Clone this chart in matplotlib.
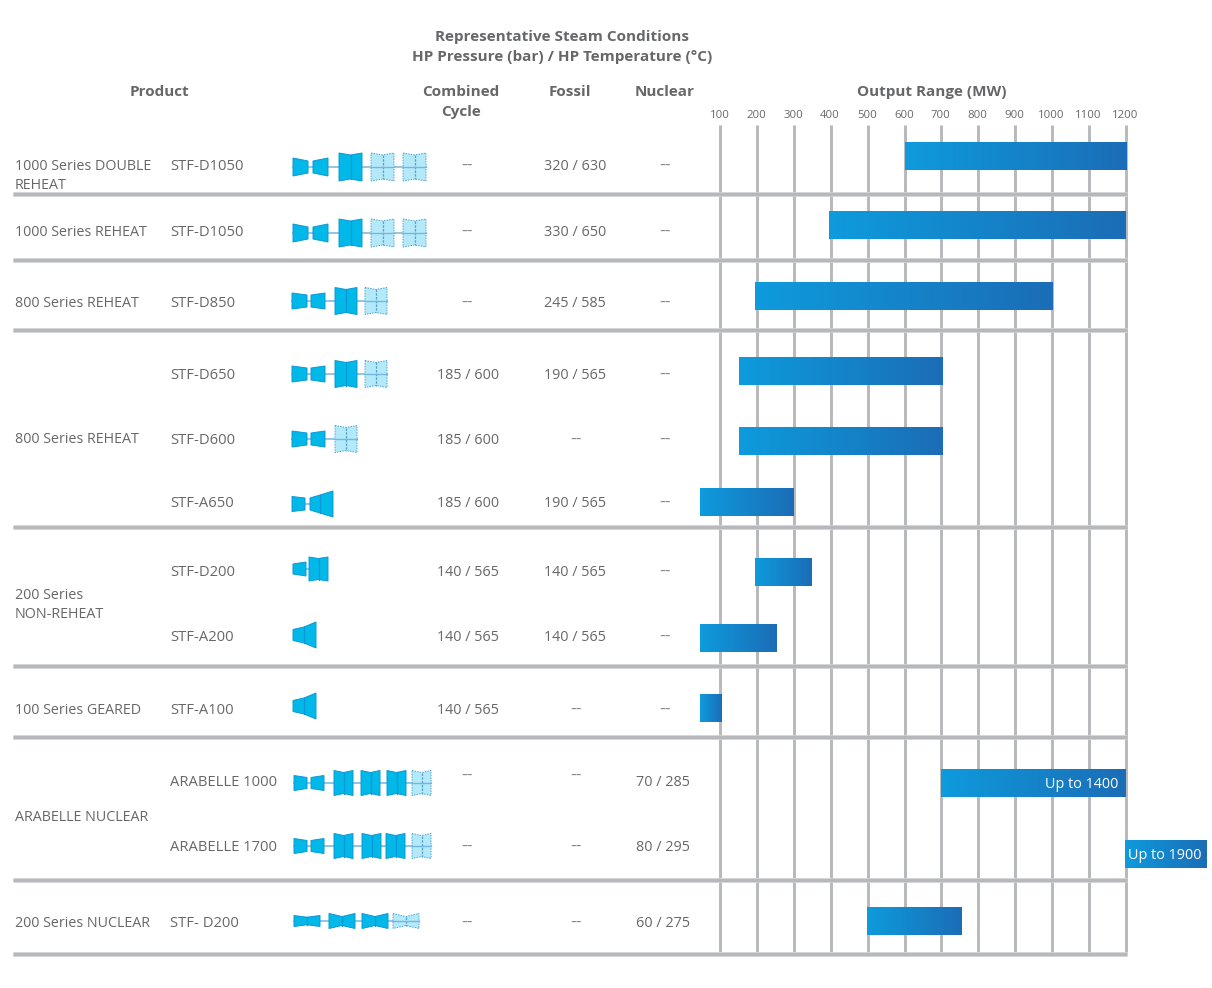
import numpy as np
import matplotlib
matplotlib.use("Agg")
import matplotlib.pyplot as plt
from matplotlib.colors import LinearSegmentedColormap
from matplotlib.patches import Polygon

# ---------- data ----------
products = ["STF-D1050", "STF-D1050", "STF-D850", "STF-D650", "STF-D600", "STF-A650",
            "STF-D200", "STF-A200", "STF-A100", "ARABELLE 1000", "ARABELLE 1700", "STF- D200"]
combined = ["--", "--", "--", "185 / 600", "185 / 600", "185 / 600",
            "140 / 565", "140 / 565", "140 / 565", "--", "--", "--"]
fossil = ["320 / 630", "330 / 650", "245 / 585", "190 / 565", "--", "190 / 565",
          "140 / 565", "140 / 565", "--", "--", "--", "--"]
nuclear = ["--", "--", "--", "--", "--", "--", "--", "--", "--", "70 / 285", "80 / 295", "60 / 275"]
output_low = [600, 395, 195, 152, 152, 47, 195, 47, 47, 698, 1198, 499]
output_high = [1199, 1199, 1000, 703, 703, 300, 347, 255, 104, 1199, 1420, 754]
bar_notes = {9: "Up to 1400", 10: "Up to 1900"}
ticks = [100, 200, 300, 400, 500, 600, 700, 800, 900, 1000, 1100, 1200]
groups = [("1000 Series DOUBLE", 165), ("REHEAT", 184), ("1000 Series REHEAT", 231),
          ("800 Series REHEAT", 302), ("800 Series REHEAT", 438), ("200 Series", 594),
          ("NON-REHEAT", 613), ("100 Series GEARED", 709), ("ARABELLE NUCLEAR", 816),
          ("200 Series NUCLEAR", 922)]

# ---------- layout ----------
W, H = 1212, 988
GRAY = "#666769"
LINE = "#B6B8BB"
row_text_y = [165, 231, 302, 374, 439, 502, 571, 636, 709, 781, 846, 922]
bar_y = [156, 225, 296, 371, 441, 502, 572, 638, 708, 783, 854, 921]
sep_y = [194, 260, 330, 527, 666, 737, 880, 954]
px_per_mw = 0.3690
x0 = 100 - 720 / px_per_mw

plt.rcParams["font.family"] = ["Open Sans", "DejaVu Sans"]
fig = plt.figure(figsize=(W / 100, H / 100), dpi=100)
ax = fig.add_axes([0, 0, 1, 1])
ax.axis("off")
ax.set_ylim(H, 0)
ax.set_xlim(x0, x0 + W / px_per_mw)
px = fig.add_axes([0, 0, 1, 1], facecolor="none")
px.axis("off")
px.set_xlim(0, W)
px.set_ylim(H, 0)

# grid
ax.vlines(ticks, 125, 952, color=LINE, lw=2.1, zorder=1)
for y in sep_y:
    px.plot([13, 1127], [y, y], color="#DADBDD", lw=3.4, solid_capstyle="butt", zorder=1)
    px.plot([13, 1127], [y, y], color=LINE, lw=2.5, solid_capstyle="butt", zorder=1)
for t in ticks:
    ax.text(t - 1.5, 115, str(t), ha="center", va="center", fontsize=8.2, color=GRAY)

# bars
cmap = LinearSegmentedColormap.from_list("bar", ["#0E9BDD", "#1B6DB6"])
grad = np.linspace(0, 1, 256).reshape(1, -1)
for i, (lo, hi) in enumerate(zip(output_low, output_high)):
    ax.imshow(grad, cmap=cmap, aspect="auto", extent=(lo, hi, bar_y[i] + 14, bar_y[i] - 14),
              zorder=3, interpolation="bilinear")
    if i in bar_notes:
        ax.text(hi - 20 if i == 9 else hi - 15, bar_y[i] + 1.5, bar_notes[i], ha="right", va="center",
                color="white", fontsize=10.4, zorder=4)
ax.set_xlim(x0, x0 + W / px_per_mw)
ax.set_ylim(H, 0)

# table text
for y, name in zip(row_text_y, products):
    px.text(170.5, y + 1.3, name, ha="left", va="center", fontsize=10.6, color=GRAY)
for label, y in groups:
    px.text(15, y + 1.3, label, ha="left", va="center", fontsize=10.3, color=GRAY)


def cell(x_dash, x_val, y, s):
    is_dash = s == "--"
    px.text(x_dash if is_dash else x_val, y + 1.3, s, ha="center", va="center",
            fontsize=12.5 if is_dash else 10.4, color="#858688" if is_dash else GRAY)


for i, y in enumerate(row_text_y):
    dy = -6 if i == 9 else 0
    cell(467, 468, y + dy, combined[i])
    cell(576, 575, y + dy, fossil[i])
    cell(665, 662.5, y, nuclear[i])

# headers
for s, x, y in [("Representative Steam Conditions", 562, 37), ("HP Pressure (bar) / HP Temperature (°C)", 562, 57),
                ("Product", 159, 92), ("Combined", 461, 92), ("Cycle", 461, 112),
                ("Fossil", 570, 92), ("Nuclear", 665, 92), ("Output Range (MW)", 932, 92)]:
    px.text(x, y, s, ha="center", va="center", fontsize=11, fontweight="bold", color=GRAY)

# turbine icons
DARK, DARK_E = "#00B9E8", "#0E97D6"
LIGHT, LIGHT_E = "#B4E9F9", "#4FA3D3"


def shape(pts, light=False):
    px.add_patch(Polygon(pts, closed=True, facecolor=LIGHT if light else DARK,
                         edgecolor=LIGHT_E if light else DARK_E, lw=0.7,
                         ls=(0, (1.5, 1.2)) if light else "-", zorder=4))


def taper(a, b, c, ha, hb):
    shape([(a, c - ha), (b, c - hb), (b, c + hb), (a, c + ha)])


def flow(a, b, c, outer, inner, light=False):
    m = (a + b) / 2
    shape([(a, c - outer), (m, c - inner), (b, c - outer), (b, c + outer), (m, c + inner), (a, c + outer)], light)
    px.plot([m, m], [c - inner, c + inner], color=LIGHT_E if light else DARK_E, lw=0.9,
            ls=(0, (2, 1)) if light else "-", zorder=5)
    if light:
        px.plot([a, b], [c, c], color="#74B6DE", lw=1.0, zorder=5)


def shaft(a, b, c):
    px.plot([a, b], [c, c], color="#74B6DE", lw=1.1, zorder=3)


def reheat(c, xs, h=(9, 6), lp=(14, 12), light_from=1):
    """HP + IP followed by double-flow LP casings; xs are LP left edges."""
    a, b, d, e, w = xs[0], xs[1], xs[2], xs[3], xs[4]
    shaft(a, xs[5][-1] + w, c)
    taper(a, b, c, h[0], h[1])
    taper(d, e, c, h[1], h[0])
    for i, x in enumerate(xs[5]):
        flow(x, x + w, c, lp[0], lp[1], light=i >= light_from)


reheat(167, (293, 308, 313, 328, 23, [339, 371, 403]))
reheat(233, (293, 308, 313, 328, 23, [339, 371, 403]))
reheat(301, (292, 307, 311, 325, 22, [335, 365]), h=(8, 6), lp=(13.5, 11.5))
reheat(374, (292, 307, 311, 325, 22, [335, 365]), h=(8, 6), lp=(13.5, 11.5))
reheat(439, (292, 307, 311, 325, 22, [335]), h=(8, 6), lp=(13.5, 11.5), light_from=0)
reheat(783, (294, 307, 311, 324, 19, [334, 361, 387, 412]), h=(7.5, 5.5), lp=(12.5, 10.5), light_from=3)
reheat(846, (294, 307, 311, 324, 19, [334, 362, 386, 412]), h=(7.5, 5.5), lp=(12.5, 10.5), light_from=3)

# A650
shaft(305, 311, 504)
taper(292, 305, 504, 7.5, 6)
shape([(310, 498), (320, 495), (333, 491), (333, 517), (320, 513), (310, 510)])
px.plot([320, 320], [495, 513], color=DARK_E, lw=0.9, zorder=5)
# D200
shaft(306, 310, 569)
taper(293, 306, 569, 5, 7)
flow(309, 328, 569, 12, 10.5)
# A200, A100
for c in (635, 706):
    shape([(293, c - 5.5), (304, c - 8), (316, c - 13), (316, c + 13), (304, c + 8), (293, c + 5.5)])
    px.plot([304, 304], [c - 8, c + 8], color=DARK_E, lw=0.9, zorder=5)
# nuclear 200
shaft(294, 419, 921)
flow(294, 320, 921, 5.5, 3.8)
flow(329, 355, 921, 7.5, 4.5)
flow(362, 388, 921, 7.5, 4.5)
flow(393, 419, 921, 7.5, 4.5, light=True)

fig.savefig("out.png", dpi=100)
